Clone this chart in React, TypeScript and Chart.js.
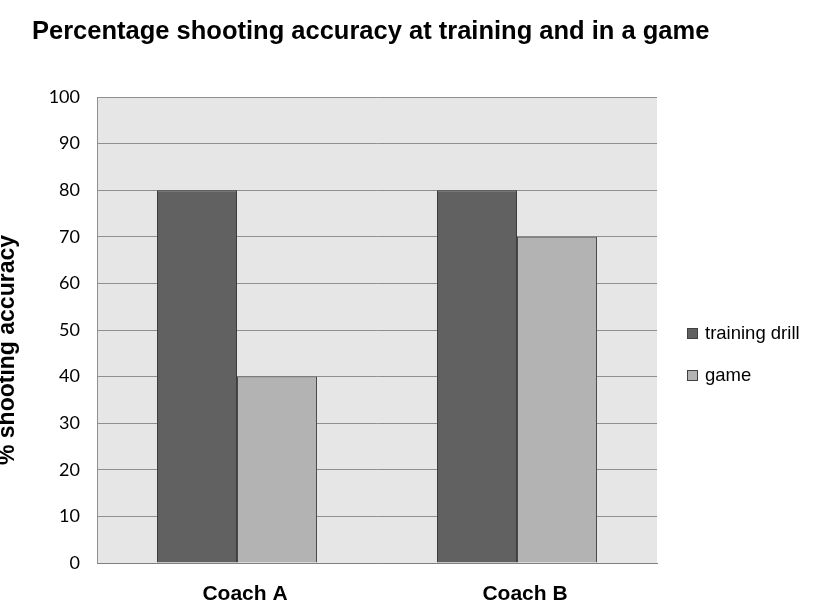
import React, { useEffect, useRef } from "react";
import { Chart, registerables } from "chart.js";

Chart.register(...registerables);

const categories = ["Coach A", "Coach B"];
const trainingDrill = [80, 80];
const game = [40, 70];
const seriesNames = ["training drill", "game"];
const titleText = "Percentage shooting accuracy at training and in a game";
const yAxisTitle = "% shooting accuracy";

const DARK = "#616161";
const LIGHT = "#b3b3b3";

const decorPlugin = {
  id: "decor",
  beforeDraw(chart: any) {
    const { ctx, chartArea } = chart;
    ctx.save();
    ctx.fillStyle = "#e6e6e6";
    ctx.fillRect(chartArea.left, chartArea.top, chartArea.right - chartArea.left, chartArea.bottom - chartArea.top);
    ctx.restore();
  },
  afterDraw(chart: any) {
    const { ctx } = chart;
    ctx.save();
    // title
    ctx.fillStyle = "#000";
    ctx.font = "bold 25.5px 'Liberation Sans', Arial, sans-serif";
    ctx.textAlign = "left";
    ctx.textBaseline = "alphabetic";
    ctx.fillText(titleText, 32, 39);
    // y axis title
    ctx.save();
    ctx.translate(14, 350);
    ctx.rotate(-Math.PI / 2);
    ctx.font = "bold 23px 'Liberation Sans', Arial, sans-serif";
    ctx.textAlign = "center";
    ctx.fillText(yAxisTitle, 0, 0);
    ctx.restore();
    // legend
    const colors = [DARK, LIGHT];
    const ys = [333, 375];
    ctx.font = "18.5px 'Liberation Sans', Arial, sans-serif";
    ctx.textBaseline = "middle";
    seriesNames.forEach((name, i) => {
      ctx.fillStyle = colors[i];
      ctx.fillRect(687.5, ys[i] - 4.5, 10, 10);
      ctx.strokeStyle = "#404040";
      ctx.lineWidth = 1;
      ctx.strokeRect(687.5, ys[i] - 4.5, 10, 10);
      ctx.fillStyle = "#000";
      ctx.fillText(name, 705, ys[i] + 1);
    });
    ctx.restore();
  },
};

export default function App() {
  const ref = useRef<HTMLCanvasElement | null>(null);
  useEffect(() => {
    if (!ref.current) return;
    const chart = new Chart(ref.current, {
      type: "bar",
      data: {
        labels: categories,
        datasets: [
          {
            label: seriesNames[0],
            data: trainingDrill,
            backgroundColor: DARK,
            borderColor: "#3c3c3c",
            borderWidth: 1,
            categoryPercentage: 0.5714,
            barPercentage: 1,
          },
          {
            label: seriesNames[1],
            data: game,
            backgroundColor: LIGHT,
            borderColor: "#4a4a4a",
            borderWidth: 1,
            categoryPercentage: 0.5714,
            barPercentage: 1,
          },
        ],
      },
      options: {
        responsive: false,
        animation: false,
        layout: { padding: { top: 97, right: 157, left: 0, bottom: 0 } },
        plugins: { legend: { display: false }, title: { display: false }, tooltip: { enabled: false } },
        scales: {
          x: {
            grid: { display: false, drawTicks: false },
            border: { display: true, color: "#808080", width: 1 },
            ticks: {
              color: "#000",
              font: { family: "'Liberation Sans', Arial, sans-serif", size: 21, weight: "bold" },
              labelOffset: 8,
              padding: 19,
            },
            afterFit(scale: any) {
              scale.height = 40;
            },
          },
          y: {
            min: 0,
            max: 100,
            grid: { color: "#8f8f8f", drawTicks: false, lineWidth: 1 },
            border: { display: true, color: "#8f8f8f", width: 1 },
            ticks: {
              stepSize: 10,
              color: "#000",
              font: { family: "Lato, sans-serif", size: 18 },
              padding: 17,
            },
            afterFit(scale: any) {
              scale.width = 97;
            },
          },
        },
      },
      plugins: [decorPlugin],
    } as any);
    return () => chart.destroy();
  }, []);
  return (
    <div style={{ position: "fixed", left: 0, top: 0, width: 814, height: 603, background: "#fff" }}>
      <canvas ref={ref} width={814} height={603} style={{ width: 814, height: 603 }} />
    </div>
  );
}
